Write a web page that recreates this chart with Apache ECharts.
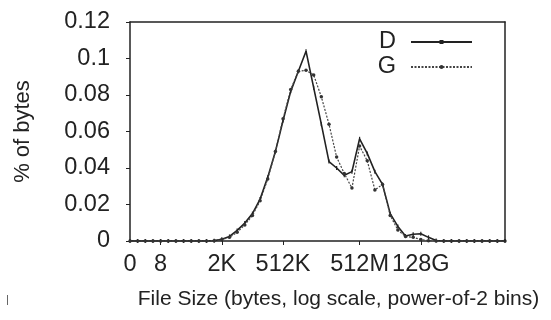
<!DOCTYPE html>
<html>
<head>
<meta charset="utf-8">
<script src="https://cdn.jsdelivr.net/npm/echarts@6/dist/echarts.min.js"></script>
<style>
html,body{margin:0;padding:0;background:#fff;}
#wrap{position:relative;width:551px;height:320px;}
#c,#f{position:absolute;left:0;top:0;width:551px;height:320px;}
#f{pointer-events:none;}
</style>
</head>
<body>
<div id="wrap"><div id="c"></div><div id="f"></div></div>
<script>
// power-of-2 bin index (0 = size 0, 1 = 1 byte, 2 = 2, 3 = 4, 4 = 8, ...)
const bins = Array.from({length: 50}, (_, i) => i);
const tickBins = [0, 4, 12, 20, 30, 38];
const tickLabels = ['0', '8', '2K', '512K', '512M', '128G'];

const seriesD = [0,0,0,0,0,0,0,0,0,0,0, 0.0002, 0.001, 0.0025, 0.0058, 0.0098, 0.015, 0.023, 0.035, 0.049,
  0.066, 0.082, 0.093, 0.104, 0.084, 0.064, 0.0435, 0.040, 0.036, 0.038,
  0.056, 0.048, 0.038, 0.031, 0.015, 0.008, 0.0027, 0.0037, 0.004, 0.002,
  0.0003, 0,0,0,0,0,0,0,0,0];
const seriesG = [0,0,0,0,0,0,0,0,0,0,0, 0.0002, 0.0008, 0.002, 0.0048, 0.0088, 0.014, 0.022, 0.034, 0.049,
  0.067, 0.083, 0.093, 0.0935, 0.091, 0.079, 0.064, 0.046, 0.037, 0.029,
  0.052, 0.044, 0.028, 0.031, 0.014, 0.006, 0.0024, 0.002, 0.0008, 0.0002,
  0, 0,0,0,0,0,0,0,0,0];

const FONT = 'Liberation Sans';
const INK = '#222';
const labelMap = {};
tickBins.forEach((b, i) => labelMap[b] = tickLabels[i]);

const axisLine = () => ({show: true, onZero: false, lineStyle: {color: INK, width: 1.5}});
const tick = () => ({show: true, length: 4, lineStyle: {color: INK, width: 1}});
const GRID = {left: 130, right: 46, top: 22, bottom: 79};

// main chart: data, left/bottom axes, legend, titles
const chart = echarts.init(document.getElementById('c'));
chart.setOption({
  animation: false,
  backgroundColor: '#fff',
  textStyle: {fontFamily: FONT},
  grid: GRID,
  legend: {
    orient: 'vertical', right: 73, top: 25, align: 'right',
    itemWidth: 61, itemHeight: 5, itemGap: 1,
    textStyle: {fontFamily: FONT, fontSize: 23.5, color: INK, lineHeight: 22, padding: [0, 10, 0, 0]},
    data: ['D', 'G']
  },
  xAxis: {
    type: 'value', min: 0, max: 49, position: 'bottom',
    axisLine: axisLine(),
    axisTick: Object.assign(tick(), {customValues: tickBins.slice(1)}),
    axisLabel: {customValues: tickBins, formatter: v => labelMap[v] !== undefined ? labelMap[v] : '',
      fontFamily: FONT, fontSize: 23.5, color: INK, margin: 12},
    splitLine: {show: false},
    name: 'File Size (bytes, log scale, power-of-2 bins)', nameLocation: 'middle', nameGap: 48,
    nameTextStyle: {fontFamily: FONT, fontSize: 21, color: INK, padding: [0, 0, 0, 42]}
  },
  yAxis: {
    type: 'value', min: 0, max: 0.12, interval: 0.02, position: 'left',
    axisLine: axisLine(), axisTick: tick(),
    axisLabel: {fontFamily: FONT, fontSize: 23.5, color: INK, margin: 20,
      formatter: v => String(+v.toFixed(2))},
    splitLine: {show: false},
    name: '% of bytes', nameLocation: 'middle', nameGap: 96, nameRotate: 90,
    nameTextStyle: {fontFamily: FONT, fontSize: 22, color: INK}
  },
  series: [{
    name: 'D', type: 'line', data: bins.map((b, i) => [b, seriesD[i]]),
    symbol: 'rect', symbolSize: [1.2, 4],
    itemStyle: {color: INK},
    lineStyle: {color: INK, width: 1.6}
  }, {
    name: 'G', type: 'line', data: bins.map((b, i) => [b, seriesG[i]]),
    symbol: 'circle', symbolSize: 3.5,
    itemStyle: {color: '#333'},
    lineStyle: {color: '#444', width: 1.2, type: [2, 1.5]}
  }],
  graphic: [{type: 'rect', shape: {x: 7, y: 295, width: 1, height: 10}, style: {fill: '#666'}}]
});

// overlay chart: the top and right sides of the plot frame with mirrored ticks
const frame = echarts.init(document.getElementById('f'));
frame.setOption({
  animation: false,
  grid: GRID,
  xAxis: {
    type: 'value', min: 0, max: 49, position: 'top',
    axisLine: axisLine(),
    axisTick: Object.assign(tick(), {customValues: tickBins.slice(1)}),
    axisLabel: {show: false}, splitLine: {show: false}
  },
  yAxis: {
    type: 'value', min: 0, max: 0.12, interval: 0.02, position: 'right',
    axisLine: axisLine(), axisTick: tick(), axisLabel: {show: false}, splitLine: {show: false}
  },
  series: [{type: 'line', data: bins.map((b, i) => [b, seriesD[i]]), symbol: 'none', silent: true,
    lineStyle: {opacity: 0}}]
});
</script>
</body>
</html>
